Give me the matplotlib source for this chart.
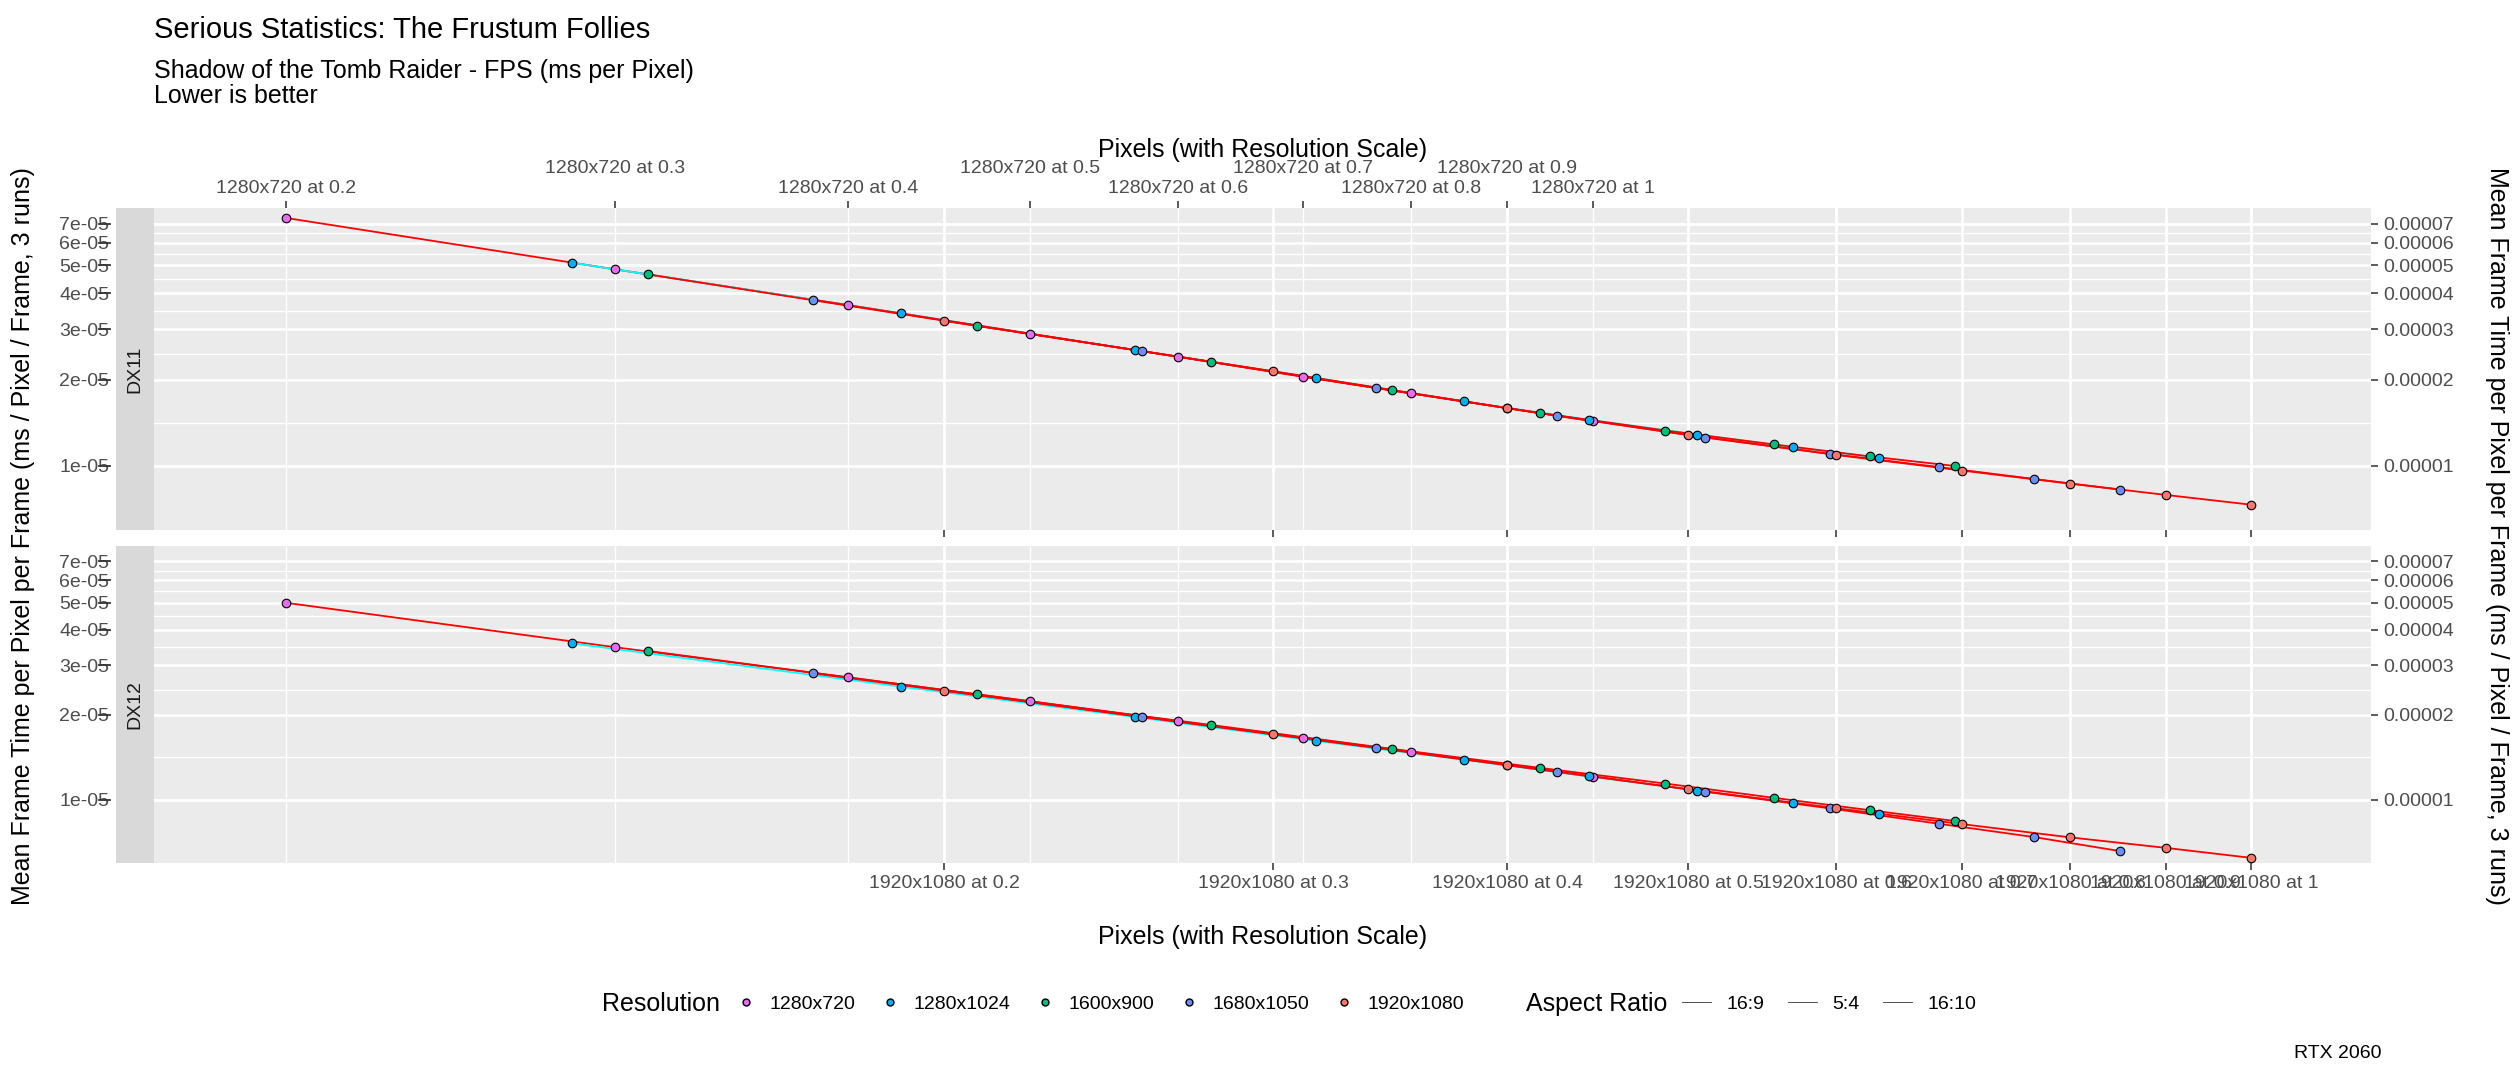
import matplotlib
matplotlib.use("Agg")
import matplotlib.pyplot as plt
import numpy as np
from matplotlib.lines import Line2D
from matplotlib.offsetbox import HPacker

plt.rcParams["font.family"] = ["Liberation Sans", "DejaVu Sans"]

SCALES = [0.2, 0.3, 0.4, 0.5, 0.6, 0.7, 0.8, 0.9, 1.0]
RES = ["1280x720", "1280x1024", "1600x900", "1680x1050", "1920x1080"]
ASPECT = {"1280x720": "16:9", "1280x1024": "5:4", "1600x900": "16:9",
          "1680x1050": "16:10", "1920x1080": "16:9"}
FILL = {"1280x720": "#E76BF3", "1280x1024": "#00B0F6", "1600x900": "#00BF7D",
        "1680x1050": "#6B8FF5", "1920x1080": "#F8766D"}
LINE = {"16:9": "#FF0000", "5:4": "#00FFFF", "16:10": "#FF0000"}

# mean frame time (ms), per resolution, at SCALES
FT_DX11 = {
    "1280x720": [13.5, 13.4, 13.4, 13.3, 13.3, 13.2, 13.2, 13.2, 13.2],
    "1280x1024": [13.4, 13.4, 13.3, 13.3, 13.2, 13.3, 13.5, 13.7, 14.0],
    "1600x900": [13.4, 13.3, 13.3, 13.2, 13.2, 13.4, 13.7, 14.0, 14.4],
    "1680x1050": [13.4, 13.3, 13.2, 13.2, 13.3, 13.6, 14.0, 14.3, 14.6],
    "1920x1080": [13.3, 13.3, 13.2, 13.3, 13.6, 14.0, 14.4, 14.8, 15.2],
}
FT_DX12 = {
    "1280x720": [9.2, 9.6, 10.0, 10.3, 10.5, 10.7, 10.9, 11.0, 11.1],
    "1280x1024": [9.4, 9.9, 10.3, 10.6, 10.9, 11.1, 11.3, 11.5, 11.7],
    "1600x900": [9.7, 10.2, 10.6, 10.9, 11.2, 11.5, 11.7, 11.9, 12.1],
    "1680x1050": [9.9, 10.4, 10.8, 11.1, 11.3, 11.5, 11.6, 11.7, 11.6],
    "1920x1080": [10.1, 10.6, 11.0, 11.3, 11.6, 11.9, 12.2, 12.6, 12.9],
}
YTICKS = [1e-5, 2e-5, 3e-5, 4e-5, 5e-5, 6e-5, 7e-5]
YLAB_L = ["1e-05", "2e-05", "3e-05", "4e-05", "5e-05", "6e-05", "7e-05"]
YLAB_R = ["0.00001", "0.00002", "0.00003", "0.00004", "0.00005", "0.00006", "0.00007"]
TOP_LAB = ["0.2", "0.3", "0.4", "0.5", "0.6", "0.7", "0.8", "0.9", "1"]


def pixels(res, s):
    w, h = res.split("x")
    return int(w) * int(h) * s


top_x = [pixels("1280x720", s) for s in SCALES]
bot_x = [pixels("1920x1080", s) for s in SCALES]
XLIM = (1.567e5, 2.404e6)
YLIM = (5.97e-6, 7.9e-5)

fig = plt.figure(figsize=(25.2, 10.8), dpi=100)
panels = [("DX11", FT_DX11, [0.061, 0.509, 0.880, 0.298]),
          ("DX12", FT_DX12, [0.061, 0.201, 0.880, 0.293])]
GREY = "#EBEBEB"
TXT = 14
axes = []
for name, ft, rect in panels:
    # strip first so the panel's tick labels sit on top of it
    s_ax = fig.add_axes([0.046, rect[1], 0.015, rect[3]])
    s_ax.set_facecolor("#D9D9D9")
    s_ax.set_xticks([]); s_ax.set_yticks([])
    for sp in s_ax.spines.values():
        sp.set_visible(False)
    s_ax.text(0.5, 0.5, name, rotation=90, ha="center", va="center",
              fontsize=TXT, color="#1A1A1A", transform=s_ax.transAxes)

    ax = fig.add_axes(rect)
    axes.append(ax)
    ax.set_facecolor(GREY)
    ax.set_xscale("log")
    ax.set_yscale("log")
    ax.set_xlim(*XLIM)
    ax.set_ylim(*YLIM)
    for sp in ax.spines.values():
        sp.set_visible(False)
    ly = np.log10(YTICKS)
    for v in YTICKS:
        ax.axhline(v, color="white", lw=2, zorder=0)
    for a, b in zip(ly[:-1], ly[1:]):
        ax.axhline(10 ** ((a + b) / 2), color="white", lw=1, zorder=0)
    for v in bot_x:
        ax.axvline(v, color="white", lw=2, zorder=0)
    for v in top_x:
        ax.axvline(v, color="white", lw=1, zorder=0)
    for r in RES:
        xs = [pixels(r, s) for s in SCALES]
        ys = [t / p for t, p in zip(ft[r], xs)]
        ax.plot(xs, ys, color=LINE[ASPECT[r]], lw=1.3, zorder=2)
        ax.scatter(xs, ys, s=38, c=FILL[r], edgecolors="black", linewidths=0.8, zorder=3)
    ax.set_yticks(YTICKS)
    ax.set_yticklabels(YLAB_L)
    ax.minorticks_off()
    ax.tick_params(axis="both", labelsize=TXT, colors="#4D4D4D", length=5, width=1.3)
    ax.tick_params(axis="y", pad=32, length=0)
    for v in YTICKS:
        ax.plot([-0.0245, -0.0195], [v, v], transform=ax.get_yaxis_transform(),
                color="#333333", lw=1.3, clip_on=False)
    sec = ax.secondary_yaxis("right")
    sec.set_yticks(YTICKS)
    sec.set_yticklabels(YLAB_R)
    sec.minorticks_off()
    sec.spines["right"].set_visible(False)
    sec.tick_params(labelsize=TXT, colors="#4D4D4D", length=5, width=1.3)

top, bot = axes
top.set_xticks(bot_x)
top.set_xticklabels([])
top.minorticks_off()
sx = top.secondary_xaxis("top")
sx.set_xticks(top_x)
sx.set_xticklabels(["1280x720 at " + l + ("\n" if i % 2 else "") for i, l in enumerate(TOP_LAB)])
sx.minorticks_off()
sx.spines["top"].set_visible(False)
sx.tick_params(labelsize=TXT, colors="#4D4D4D", length=5, width=1.3)
sx.set_xlabel("Pixels (with Resolution Scale)", fontsize=18, labelpad=2)

bot.set_xticks(bot_x)
bot.set_xticklabels(["1920x1080 at " + l for l in TOP_LAB])
bot.minorticks_off()
bot.tick_params(axis="x", labelsize=TXT, colors="#4D4D4D")
bot.set_xlabel("Pixels (with Resolution Scale)", fontsize=18, labelpad=24)

ylab = "Mean Frame Time per Pixel per Frame (ms / Pixel / Frame, 3 runs)"
fig.text(0.009, 0.504, ylab, rotation=90, ha="center", va="center", fontsize=18)
fig.text(0.991, 0.504, ylab, rotation=-90, ha="center", va="center", fontsize=18)

fig.text(0.061, 0.972, "Serious Statistics: The Frustum Follies", fontsize=21, va="center")
fig.text(0.061, 0.945, "Shadow of the Tomb Raider - FPS (ms per Pixel)\nLower is better",
         fontsize=18, va="top", linespacing=1.05)
fig.text(0.945, 0.025, "RTX 2060", fontsize=TXT, ha="right", va="center")

h1 = [Line2D([], [], marker="o", ls="none", markerfacecolor=FILL[r],
             markeredgecolor="black", markersize=5, label=r) for r in RES]
leg1 = fig.legend(handles=h1, title="Resolution", loc="center", ncol=5,
                  bbox_to_anchor=(0.41, 0.07), frameon=False, fontsize=TXT,
                  title_fontsize=18, handlelength=1.2, columnspacing=1.2, handletextpad=0.6)
h2 = [Line2D([], [], color="#333333", lw=0.6, label=a) for a in ["16:9", "5:4", "16:10"]]
leg2 = fig.legend(handles=h2, title="Aspect Ratio", loc="center", ncol=3,
                  bbox_to_anchor=(0.695, 0.07), frameon=False, fontsize=TXT,
                  title_fontsize=18, handlelength=1.5, columnspacing=1.2)
for lg in (leg1, leg2):
    # title on the left like ggplot
    box = lg._legend_box
    box.sep = 10
    box.__class__ = HPacker
    box.align = "center"

fig.savefig("out.png", dpi=100)
